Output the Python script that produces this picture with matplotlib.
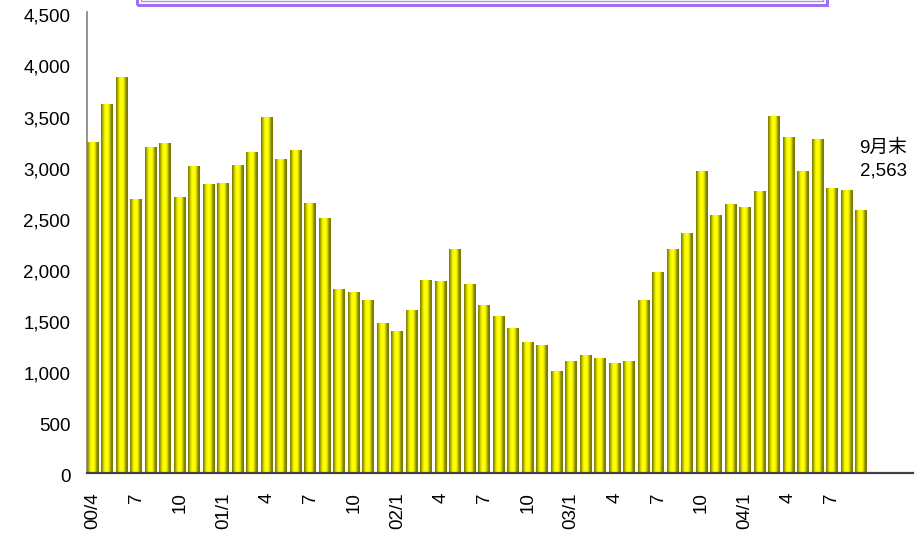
import matplotlib
matplotlib.use('Agg')
import matplotlib.pyplot as plt
from matplotlib.colors import LinearSegmentedColormap
from matplotlib.patches import Rectangle
from matplotlib.transforms import ScaledTranslation
import numpy as np

# month-end balances, 2000/4 .. 2004/9
values = [3235, 3597, 3861, 2678, 3177, 3225, 2688, 2991, 2815,          # 2000
          2834, 3001, 3128, 3470, 3069, 3157, 2639, 2483, 1795, 1766, 1688, 1463,  # 2001
          1385, 1590, 1883, 1874, 2186, 1844, 1639, 1532, 1414, 1277, 1248, 994,   # 2002
          1092, 1150, 1121, 1072, 1092, 1688, 1962, 2186, 2343, 2949, 2519, 2626,  # 2003
          2597, 2753, 3486, 3281, 2949, 3262, 2783, 2763, 2563]               # 2004
n_slots = 57   # axis runs through 04/12

tick_pos = list(range(0, 54, 3))
tick_labels = ['00/4', '7', '10', '01/1', '4', '7', '10', '02/1', '4', '7', '10',
               '03/1', '4', '7', '10', '04/1', '4', '7']

y_ticks = list(range(0, 4501, 500))

note_text = '9月末\n2,563'

plt.rcParams['font.family'] = ['Liberation Sans', 'Noto Sans CJK JP']

W, H = 924, 537
fig = plt.figure(figsize=(W / 100, H / 100), dpi=100)
ax = fig.add_axes([87 / W, 1 - 472.7 / H, 826 / W, 460.4 / H])

bw = 0.82
x = np.arange(len(values))
bars = ax.bar(x, values, width=bw, color='none', edgecolor='none')

# cylinder shading across each bar
cyl = LinearSegmentedColormap.from_list('cyl', [
    (0.0, '#767600'), (0.1, '#9c9c00'), (0.25, '#e6e600'), (0.38, '#ffff00'),
    (0.58, '#ffff00'), (0.72, '#d4d400'), (0.84, '#8a8a00'), (1.0, '#767600')])
grad = np.linspace(0, 1, 64).reshape(1, -1)
for b in bars:
    x0 = b.get_x()
    ax.imshow(grad, cmap=cyl, aspect='auto', interpolation='bilinear',
              extent=(x0, x0 + b.get_width(), 0, b.get_height()), zorder=2)

ax.set_xlim(-bw / 2, -bw / 2 + n_slots)
ax.set_ylim(0, 4500)

fs = 13.5
ax.set_yticks(y_ticks)
ax.set_yticklabels([f'{v:,}' for v in y_ticks])
ax.set_xticks(tick_pos)
ax.set_xticklabels(tick_labels, rotation=90, va='top')
ax.tick_params(axis='both', length=0, labelsize=fs)
ax.tick_params(axis='y', pad=12)
ax.tick_params(axis='x', pad=14)

# nudge value labels a little below their ticks
shift = ScaledTranslation(0, -3 / 100, fig.dpi_scale_trans)
for lab in ax.get_yticklabels():
    lab.set_transform(lab.get_transform() + shift)

for s in ['top', 'right']:
    ax.spines[s].set_visible(False)
ax.spines['left'].set_color('#808080')
ax.spines['left'].set_linewidth(1.2)
ax.spines['bottom'].set_color('#404040')
ax.spines['bottom'].set_linewidth(1.6)
ax.spines['bottom'].set_zorder(3)

ax.text(56.2, 3060, note_text, ha='right', va='center', fontsize=fs,
        linespacing=1.45)

# title frame, mostly above the canvas
fig.patches.append(Rectangle((137 / W, 1 - 4.6 / H), (827 - 137) / W, 0.2,
                             transform=fig.transFigure, fill=False,
                             edgecolor='#a070f0', linewidth=2.2))
fig.patches.append(Rectangle((141 / W, 1 - 1.2 / H), (823 - 141) / W, 0.2,
                             transform=fig.transFigure, fill=False,
                             edgecolor='#b48cf4', linewidth=1.0))

fig.savefig('out.png', dpi=100)
